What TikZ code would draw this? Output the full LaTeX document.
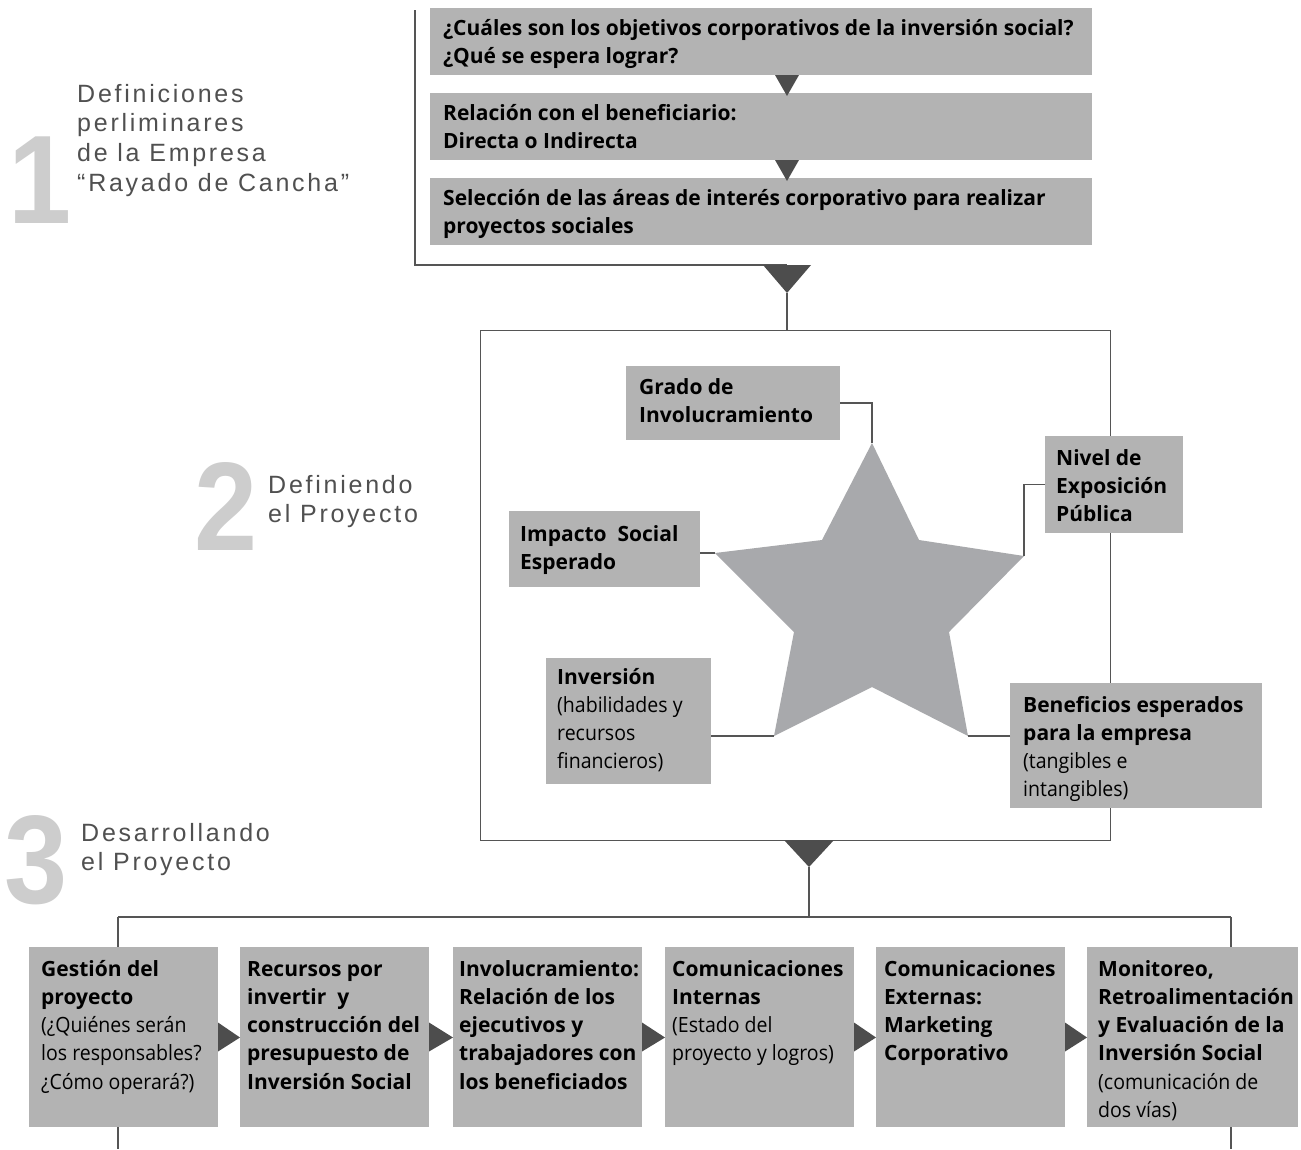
\documentclass[tikz,border=0pt]{standalone}
\usepackage{fontspec}
\setmainfont{Liberation Sans}
\newfontfamily\boxfont{Open Sans}
\newfontfamily\boxlight[FakeStretch=0.93]{Open Sans}
\newfontfamily\labfont[LetterSpace=11]{Liberation Sans}
\newfontfamily\numfont[FakeStretch=0.9]{Liberation Sans}
\definecolor{boxgray}{HTML}{B3B3B3}
\definecolor{stargray}{HTML}{A8A9AC}
\definecolor{linegray}{HTML}{555555}
\definecolor{trigray}{HTML}{4D4D4D}
\definecolor{numgray}{HTML}{CDCDCD}
\definecolor{labgray}{HTML}{505050}
\newcommand\btext[1]{\parbox[t]{700pt}{#1}}
\newcommand\rg[1]{{\boxlight\mdseries #1}}
\begin{document}
\begin{tikzpicture}[x=1pt,y=-1pt,
  gbox/.style={fill=boxgray, draw=none, inner sep=0, outer sep=0, anchor=north west, rectangle},
  btxt/.style={inner sep=0, anchor=base west, font=\boxfont\bfseries\fontsize{21}{28.3}\selectfont, text=black},
  conn/.style={draw=linegray, line width=1.4pt},
  tri/.style={fill=trigray, draw=none},
  lab/.style={inner sep=0, anchor=base west, font=\labfont\fontsize{25}{29.7}\selectfont, text=labgray},
  num/.style={inner sep=0, anchor=base, font=\numfont\bfseries\fontsize{126}{126}\selectfont, text=numgray}]
\useasboundingbox[fill=white] (0,0) rectangle (1301,1149);

% ---------- section labels ----------
\node[num] (n1) at (40,223) {1};
\node[num] (n2) at (226,550) {2};
\node[num] (n3) at (36,903) {3};
\node[lab] (l1) at (77,102) {\parbox[t]{320pt}{Definiciones\\perliminares\\de la Empresa\\“Rayado de Cancha”}};
\node[lab] (l2) at (268,493) {\parbox[t]{220pt}{Definiendo\\el Proyecto}};
\node[lab] (l3) at (81,841) {\parbox[t]{220pt}{Desarrollando\\el Proyecto}};

% ---------- section 1 ----------
\node[gbox, minimum width=662, minimum height=67] (q1) at (430,8) {};
\node[gbox, minimum width=662, minimum height=67] (q2) at (430,93) {};
\node[gbox, minimum width=662, minimum height=67] (q3) at (430,178) {};
\node[btxt] at (443,35) {\btext{¿Cuáles son los objetivos corporativos de la inversión social?\\¿Qué se espera lograr?}};
\node[btxt] at (443,120) {\btext{Relación con el beneficiario:\\Directa o Indirecta}};
\node[btxt] at (443,205) {\btext{Selección de las áreas de interés corporativo para realizar\\proyectos sociales}};
\fill[tri] (q1.south -| 787,0) ++(-12,0) -- ++(24,0) -- ++(-12,21) -- cycle;
\fill[tri] (q2.south -| 787,0) ++(-12,0) -- ++(24,0) -- ++(-12,21) -- cycle;

\coordinate (t1) at (787,265);
\draw[conn] (415,10) |- (t1);
\fill[tri] (t1) ++(-24,0) -- ++(48,0) -- ++(-24,28) -- cycle;

% ---------- section 2 ----------
\node[draw=linegray, line width=1.4pt, minimum width=630, minimum height=510, anchor=north west, inner sep=0] (frame) at (480,330) {};
\draw[conn] (t1) ++(0,28) -- (t1 |- frame.north);

% star
\coordinate (stop) at (872,443);
\coordinate (sleft) at (715,553);
\coordinate (sbl) at (774,736);
\coordinate (sbr) at (968,736);
\coordinate (sright) at (1024,556);
\fill[stargray] (stop) -- (822,540) -- (sleft) -- (794,632) -- (sbl) -- (872,687) -- (sbr) -- (949,632) -- (sright) -- (919,540) -- cycle;

\node[gbox, minimum width=214, minimum height=74] (grado) at (626,366) {};
\node[btxt] at (639,394) {\btext{Grado de\\Involucramiento}};
\node[gbox, minimum width=191, minimum height=76] (impacto) at (509,511) {};
\node[btxt] at (520,541) {\btext{Impacto\ \ Social\\Esperado}};
\node[gbox, minimum width=138, minimum height=97] (nivel) at (1045,436) {};
\node[btxt] at (1056,465) {\btext{Nivel de\\Exposición\\Pública}};
\node[gbox, minimum width=165, minimum height=126] (inversion) at (546,658) {};
\node[btxt] at (557,684) {\btext{Inversión\\\rg{(habilidades y\\recursos\\financieros)}}};
\node[gbox, minimum width=252, minimum height=125] (beneficios) at (1010,683) {};
\node[btxt] at (1023,712) {\btext{Beneficios esperados\\para la empresa\\\rg{(tangibles e\\intangibles)}}};

\draw[conn] (grado.east) -| (stop);
\draw[conn] (impacto.east |- sleft) -- (sleft);
\draw[conn] (nivel.west) -| (sright);
\draw[conn] (inversion.east |- sbl) -- (sbl);
\draw[conn] (beneficios.west |- sbr) -- (sbr);

% ---------- section 3 ----------
\coordinate (t2) at (809,840);
\fill[tri] (t2) ++(-25,0) -- ++(50,0) -- ++(-25,27) -- cycle;
\coordinate (hl) at (118,917);
\coordinate (hr) at (1231,917);
\draw[conn] (t2) ++(0,27) -- (t2 |- hl);
\draw[conn] (hl) -- (hr);

\node[gbox, minimum width=189, minimum height=180] (g1) at (29,947) {};
\node[gbox, minimum width=189, minimum height=180] (g2) at (240,947) {};
\node[gbox, minimum width=189, minimum height=180] (g3) at (453,947) {};
\node[gbox, minimum width=189, minimum height=180] (g4) at (665,947) {};
\node[gbox, minimum width=189, minimum height=180] (g5) at (876,947) {};
\node[gbox, minimum width=211, minimum height=180] (g6) at (1087,947) {};

\draw[conn] (hl) -- (hl |- g1.north);
\draw[conn] (hr) -- (hr |- g6.north);
\draw[conn] (hl |- g1.south) -- (118,1149);
\draw[conn] (hr |- g6.south) -- (1231,1149);

\node[btxt] at (41,976) {\btext{Gestión del\\proyecto\\\rg{(¿Quiénes serán\\los responsables?\\¿Cómo operará?)}}};
\node[btxt] at (247,976) {\btext{Recursos por\\invertir\ \ y\\construcción del\\presupuesto de\\Inversión Social}};
\node[btxt] at (459,976) {\btext{Involucramiento:\\Relación de los\\ejecutivos y\\trabajadores con\\los beneficiados}};
\node[btxt] at (672,976) {\btext{Comunicaciones\\Internas\\\rg{(Estado del\\proyecto y logros)}}};
\node[btxt] at (884,976) {\btext{Comunicaciones\\Externas:\\Marketing\\Corporativo}};
\node[btxt] at (1098,976) {\btext{Monitoreo,\\Retroalimentación\\y Evaluación de la\\Inversión Social\\\rg{(comunicación de\\dos vías)}}};

\foreach \a/\b in {g1/g2,g2/g3,g3/g4,g4/g5,g5/g6}{
  \fill[tri] (\a.east) ++(0,-14.5) -- ++(0,29) -- (\b.west |- 0,1037.5) -- cycle;
}
\end{tikzpicture}
\end{document}
